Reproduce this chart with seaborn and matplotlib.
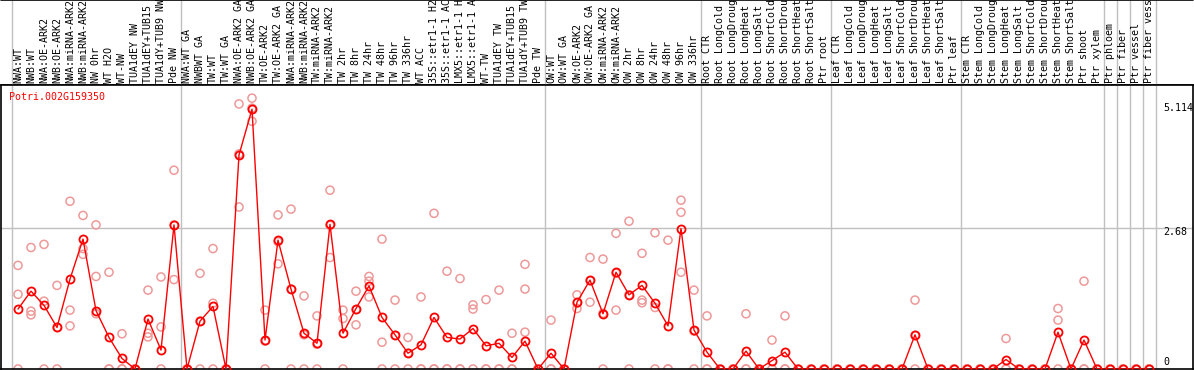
import numpy as np
import pandas as pd
import matplotlib
matplotlib.use("Agg")
import matplotlib.pyplot as plt
import seaborn as sns

gene = "Potri.002G159350"

samples = [
    "NWA:WT", "NWB:WT", "NWA:OE-ARK2", "NWB:OE-ARK2", "NWA:miRNA-ARK2", "NWB:miRNA-ARK2",
    "NW 0hr", "WT H2O", "WT-NW", "TUA1dEY NW", "TUA1dEY+TUB15 NW", "TUA1dY+TUB9 NW", "Pde NW",
    "NWA:WT GA", "NWBWT GA", "TW:WT", "TW:WT GA", "NWA:OE-ARK2 GA", "NWB:OE-ARK2 GA",
    "TW:OE-ARK2", "TW:OE-ARK2 GA", "NWA:miRNA-ARK2", "NWB:miRNA-ARK2", "TW:miRNA-ARK2",
    "TW:miRNA-ARK2", "TW 2hr", "TW 8hr", "TW 24hr", "TW 48hr", "TW 96hr", "TW 336hr", "WT ACC",
    "35S::etr1-1 H2O", "35S::etr1-1 ACC", "LMX5::etr1-1 H2O", "LMX5::etr1-1 ACC", "WT-TW",
    "TUA1dEY TW", "TUA1dEY+TUB15 TW", "TUA1dY+TUB9 TW", "Pde TW",
    "OW:WT", "OW:WT GA", "OW:OE-ARK2", "OW:OE-ARK2 GA", "OW:miRNA-ARK2", "OW:miRNA-ARK2",
    "OW 2hr", "OW 8hr", "OW 24hr", "OW 48hr", "OW 96hr", "OW 336hr",
    "Root CTR", "Root LongCold", "Root LongDrought", "Root LongHeat", "Root LongSalt",
    "Root ShortCold", "Root ShortDrought", "Root ShortHeat", "Root ShortSalt", "Ptr root",
    "Leaf CTR", "Leaf LongCold", "Leaf LongDrought", "Leaf LongHeat", "Leaf LongSalt",
    "Leaf ShortCold", "Leaf ShortDrought", "Leaf ShortHeat", "Leaf ShortSalt", "Ptr leaf",
    "Stem CTR", "Stem LongCold", "Stem LongDrought", "Stem LongHeat", "Stem LongSalt",
    "Stem ShortCold", "Stem ShortDrought", "Stem ShortHeat", "Stem ShortSalt", "Ptr shoot",
    "Ptr xylem", "Ptr phloem", "Ptr fiber", "Ptr vessel", "Ptr fiber vessel",
]
group_sizes = [13, 28, 12, 10, 10, 11, 1, 1, 1, 1]

mean_expr = [
    1.14, 1.48, 1.21, 0.79, 1.71, 2.47, 1.11, 0.60, 0.20, 0.00, 0.95, 0.36, 2.74,
    0.00, 0.91, 1.19, 0.00, 4.07, 4.94, 0.55, 2.45, 1.52, 0.68, 0.49, 2.75, 0.68,
    1.15, 1.58, 0.98, 0.65, 0.30, 0.46, 0.98, 0.60, 0.57, 0.77, 0.44, 0.49, 0.22,
    0.53, 0.00,
    0.30, 0.00, 1.27, 1.69, 1.05, 1.84, 1.41, 1.59, 1.25, 0.82, 2.67, 0.74,
    0.32, 0.00, 0.00, 0.34, 0.00, 0.16, 0.32, 0.00, 0.00, 0.00,
    0.00, 0.00, 0.00, 0.00, 0.00, 0.00, 0.65, 0.00, 0.00, 0.00,
    0.00, 0.00, 0.00, 0.18, 0.00, 0.00, 0.00, 0.70, 0.00, 0.55,
    0.00, 0.00, 0.00, 0.00, 0.00,
]
rep1 = [
    1.97, 2.31, 2.37, 1.59, 3.19, 2.92, 2.74, 1.84, 0.67, 0.00, 1.50, 1.75, 3.78,
    0.00, 1.82, 2.29, 0.00, 5.04, 5.15, 1.12, 2.93, 3.04, 1.39, 1.01, 3.40, 1.12,
    1.48, 1.76, 2.47, 1.31, 0.60, 1.37, 2.96, 1.86, 1.72, 1.22, 1.32, 1.50, 0.68,
    1.99, 0.00,
    0.93, 0.00, 1.41, 2.12, 2.09, 2.58, 2.81, 2.20, 2.59, 2.45, 3.21, 1.50,
    1.01, 0.00, 0.00, 1.05, 0.00, 0.55, 1.01, 0.00, 0.00, 0.00,
    0.00, 0.00, 0.00, 0.00, 0.00, 0.00, 1.31, 0.00, 0.00, 0.00,
    0.00, 0.00, 0.00, 0.58, 0.00, 0.00, 0.00, 1.15, 0.00, 1.67,
    0.00, 0.00, 0.00, 0.00, 0.00,
]
rep2 = [
    1.42, 1.10, 1.29, 0.79, 1.12, 2.29, 1.76, 0.00, 0.00, 0.00, 0.68, 0.80, 2.74,
    0.00, 0.91, 1.25, 0.00, 4.09, 4.96, 0.53, 2.42, 1.52, 0.65, 0.47, 2.73, 0.96,
    1.13, 1.67, 0.51, 0.64, 0.30, 0.00, 0.00, 0.00, 0.00, 1.14, 0.00, 0.00, 0.00,
    1.52, 0.00,
    0.00, 0.00, 1.25, 1.68, 1.06, 1.82, 1.41, 1.31, 1.17, 0.00, 2.98, 0.72,
    0.00, 0.00, 0.00, 0.00, 0.00, 0.00, 0.00, 0.00, 0.00, 0.00,
    0.00, 0.00, 0.00, 0.00, 0.00, 0.00, 0.64, 0.00, 0.00, 0.00,
    0.00, 0.00, 0.00, 0.00, 0.00, 0.00, 0.00, 0.93, 0.00, 0.00,
    0.00, 0.00, 0.00, 0.00, 0.00,
]
rep3 = [
    0.00, 1.03, 0.00, 0.00, 0.82, 2.18, 1.05, 0.00, 0.00, 0.00, 0.61, 0.00, 1.70,
    0.00, 0.00, 0.00, 0.00, 3.08, 4.71, 0.00, 2.00, 0.00, 0.00, 0.00, 2.12, 0.00,
    0.84, 1.37, 0.00, 0.00, 0.00, 0.00, 0.00, 0.00, 0.00, 0.00, 0.00, 0.00, 0.00,
    0.70, 0.00,
    0.00, 0.00, 1.15, 1.27, 0.00, 1.12, 0.00, 1.26, 0.00, 0.00, 1.84, 0.00,
    0.00, 0.00, 0.00, 0.00, 0.00, 0.00, 0.00, 0.00, 0.00, 0.00,
    0.00, 0.00, 0.00, 0.00, 0.00, 0.00, 0.00, 0.00, 0.00, 0.00,
    0.00, 0.00, 0.00, 0.00, 0.00, 0.00, 0.00, 0.00, 0.00, 0.00,
    0.00, 0.00, 0.00, 0.00, 0.00,
]
y_ticks = [5.114, 2.68, 0]

sns.set_style("white")
plt.rcParams["font.family"] = ["DejaVu Sans Mono"]
plt.rcParams["font.size"] = 7.2

n = len(samples)
pos = np.arange(n)
reps = pd.DataFrame({
    "pos": np.tile(pos, 3),
    "value": np.concatenate([rep1, rep2, rep3]),
})
means = pd.DataFrame({"pos": pos, "value": mean_expr})

W, H = 1194, 370
fig = plt.figure(figsize=(W / 100, H / 100), dpi=100)
x0 = 18          # pixel of first sample
dx = 13          # pixels per sample
xlim = ((1 - x0) / dx, (1193 - x0) / dx)
ymax = 5.40

ax = fig.add_axes([1 / W, 1 / H, 1192 / W, 284 / H])
hd = fig.add_axes([1 / W, 285 / H, 1192 / W, 85 / H], sharex=ax)

bounds = np.concatenate([[0], np.cumsum(group_sizes)]) - 0.5
for b in bounds:
    ax.axvline(b, color="#c0c0c0", lw=1, zorder=0)
    hd.axvline(b, color="#c0c0c0", lw=1, zorder=0)
ax.axhline(y_ticks[1], color="#c0c0c0", lw=1, zorder=0)

sns.scatterplot(data=reps, x="pos", y="value", ax=ax, marker="o", s=34,
                facecolor="none", edgecolor="#ee9999", linewidth=1.1, zorder=2,
                legend=False)
sns.lineplot(data=means, x="pos", y="value", ax=ax, color="red", lw=1,
             marker="o", markersize=5.8, markerfacecolor="none",
             markeredgecolor="red", markeredgewidth=1.3, zorder=3)

ax.set_xlim(*xlim)
ax.set_ylim(0, ymax)
ax.set_xticks([])
ax.set_yticks([])
ax.set_xlabel("")
ax.set_ylabel("")
for s in ax.spines.values():
    s.set_color("black")
    s.set_linewidth(1.2)

lab_x = (1163 - x0) / dx
ax.text(lab_x, 4.97, "5.114", ha="left", va="center", color="black")
ax.text(lab_x, 2.60, "2.68", ha="left", va="center", color="black")
ax.text(lab_x, 0.13, "0", ha="left", va="center", color="black")
ax.text((9 - x0) / dx, (369 - 97) / 52.6, gene, ha="left", va="center", color="red")

hd.set_ylim(0, 85)
hd.axis("off")
for i, name in enumerate(samples):
    hd.text(i, 2, name, rotation=90, ha="center", va="bottom", clip_on=True,
            color="black")
hd.axhline(0, color="black", lw=1.2)
hd.axhline(85, color="black", lw=1.2, clip_on=False)

fig.savefig("out.png", dpi=100)
